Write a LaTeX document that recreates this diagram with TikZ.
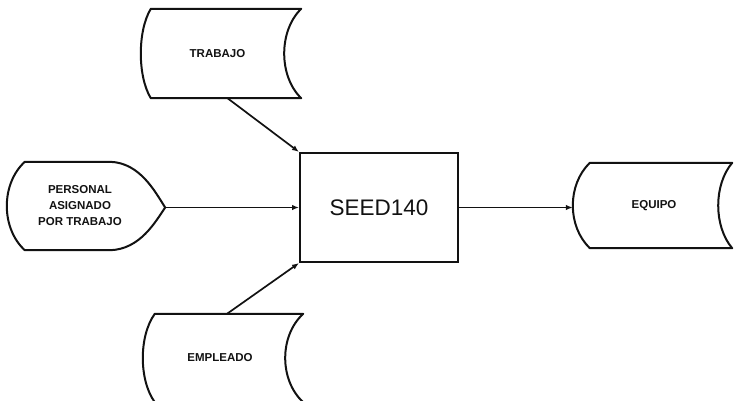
\documentclass[tikz,border=0pt]{standalone}
\usepackage{fontspec}
\setmainfont{Liberation Sans}
\setsansfont{Liberation Sans}
\usetikzlibrary{arrows.meta, calc}
\definecolor{cInk}{RGB}{18,18,18}

% stored-data outline round a node: #1 node, #2 depth of the right curve, #3 left bulge
\newcommand\storeoutline[3]{%
  \draw[outline] (#1.north west) -- ($(#1.north east)+(#2,0)$)
    .. controls ($(#1.north east)+({-#2/3},22)$) and ($(#1.south east)+({-#2/3},-22)$)
    .. ($(#1.south east)+(#2,0)$)
    -- (#1.south west)
    .. controls ($(#1.south west)+({-4*#3/3},-22)$) and ($(#1.north west)+({-4*#3/3},22)$)
    .. (#1.north west) -- cycle;
}

\begin{document}
\begin{tikzpicture}[
  x=1pt, y=-1pt,
  >=Latex,
  % ── outlines
  outline/.style={draw=cInk, line width=2pt, line join=round},
  % ── text nodes of the data stores
  store/.style={
    inner sep=0pt, align=center, text=cInk,
    font=\fontsize{11.5}{16}\selectfont\bfseries
  },
  % ── program box
  proc/.style={
    draw=cInk, line width=2pt, inner sep=0pt, text=cInk,
    font=\fontsize{22.5}{26}\selectfont,
    minimum width=158pt, minimum height=109pt
  },
  % ── arrows
  arr/.style={-{Latex[length=7pt,width=5.5pt]}, draw=cInk, line width=1.7pt},
]

\useasboundingbox (0,0) rectangle (735,400);
\clip (0,0) rectangle (735,400);

%% ═══════════════════════════════════════════════════════════════
%%  PROGRAM
%% ═══════════════════════════════════════════════════════════════

\node[proc] (seed) at (379,207.5) {SEED140};

%% ═══════════════════════════════════════════════════════════════
%%  DATA STORES  (inputs above / below, output right)
%% ═══════════════════════════════════════════════════════════════

\node[store, minimum width=133pt, minimum height=89pt] (trabajo) at (217.5,53.5) {TRABAJO};
\storeoutline{trabajo}{17}{10}

\node[store, minimum width=130pt, minimum height=88pt] (empleado) at (220,358) {EMPLEADO};
\storeoutline{empleado}{18}{12}

\node[store, minimum width=128pt, minimum height=85pt] (equipo) at (654,205.5) {EQUIPO};
\storeoutline{equipo}{14}{17}
\coordinate (equipo-in) at ($(equipo.west)+(-17,0)$);

%% ═══════════════════════════════════════════════════════════════
%%  DISPLAY  (pointed right side)
%% ═══════════════════════════════════════════════════════════════

\node[store, minimum width=110pt, minimum height=88pt] (personal) at (80,206)
  {PERSONAL\\ASIGNADO\\POR TRABAJO};
\coordinate (personal-tip) at ($(personal.east)+(30,1.5)$);
\draw[outline] (personal.north west) -- ($(personal.north east)+(-25,0)$)
  .. controls ($(personal.north east)+(5,1)$) and ($(personal.east)+(20,-14)$) .. (personal-tip)
  .. controls ($(personal.east)+(20,16)$) and ($(personal.south east)+(5,-1)$)
  .. ($(personal.south east)+(-25,0)$)
  -- (personal.south west)
  .. controls ($(personal.south west)+(-24,-22)$) and ($(personal.north west)+(-24,22)$)
  .. (personal.north west) -- cycle;

% arrows
\draw[arr] ([xshift=10pt]trabajo.south) -- (seed.north west);
\draw[arr] ([xshift=7pt]empleado.north) -- (seed.south west);
\draw[arr] (personal-tip) -- (personal-tip -| seed.west);
\draw[arr] (seed.east) -- (seed.east -| equipo-in);

\end{tikzpicture}
\end{document}
